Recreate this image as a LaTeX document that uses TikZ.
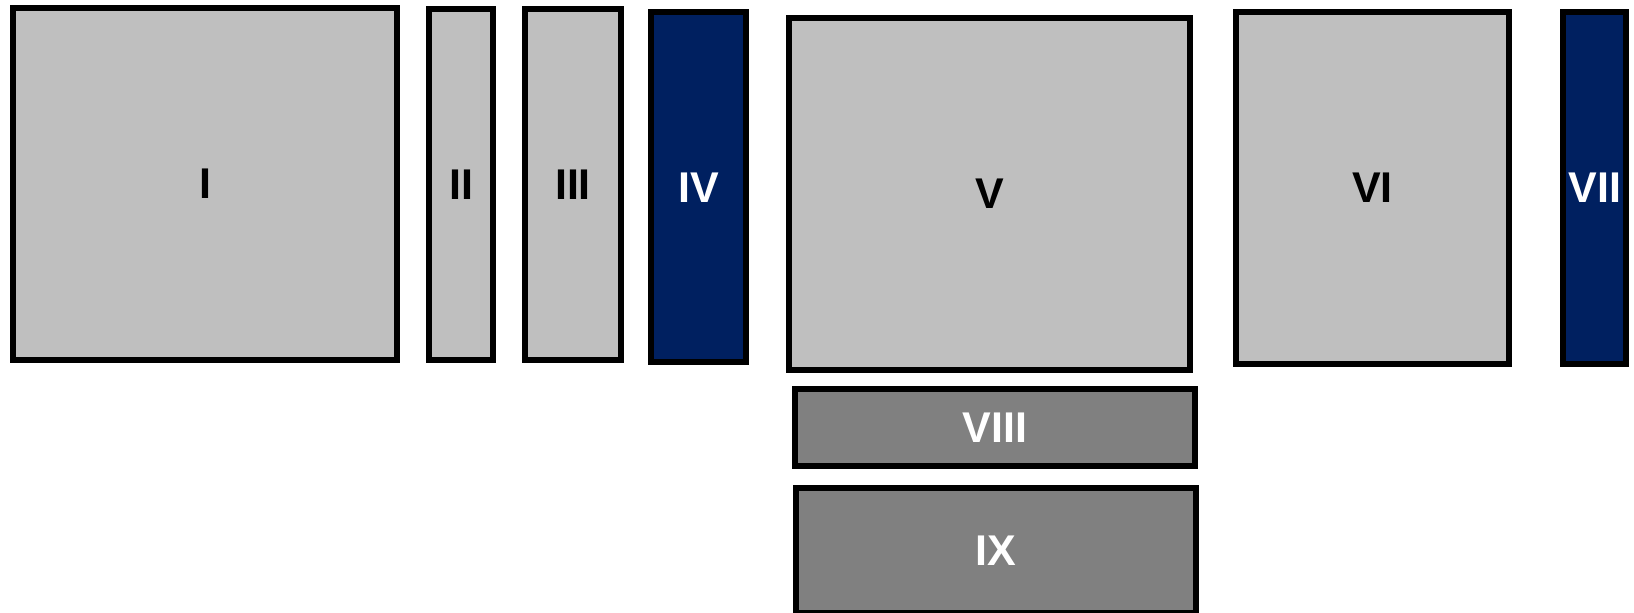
\documentclass[tikz,border=0pt]{standalone}
\usepackage{fontspec}
\setmainfont{Liberation Sans}
\usepackage{xcolor}
\usepackage{tikz}
\usetikzlibrary{positioning, calc}

\definecolor{lightgrey}{RGB}{191,191,191}
\definecolor{darkgrey}{RGB}{128,128,128}
\definecolor{navy}{RGB}{0,32,96}

\begin{document}
\begin{tikzpicture}[x=1pt, y=-1pt, every node/.style={draw=black, line width=6pt, inner sep=0pt, font=\fontsize{43}{50}\selectfont\bfseries}]
			\useasboundingbox (0,0) rectangle (1634,613);
			\foreach \nm/\xc/\yc/\w/\h/\fc/\tc in {I/205/183.7/384/352/lightgrey/black, II/461/184.5/64/351/lightgrey/black, III/573/184.5/96/351/lightgrey/black, IV/698.5/187.3/95.6/350/navy/white, V/989.4/193.7/400.7/352/lightgrey/black, VI/1372.3/188/273.5/351.4/lightgrey/black, VII/1594.7/188/63.3/351.4/navy/white, VIII/994.7/427.7/400/77.3/darkgrey/white, IX/996.3/550.4/400/125.3/darkgrey/white}
			{
				\node [fill=\fc, text=\tc, minimum width=\w pt, minimum height=\h pt] (box\nm) at (\xc, \yc) {\nm};
			}
\end{tikzpicture}
\end{document}
